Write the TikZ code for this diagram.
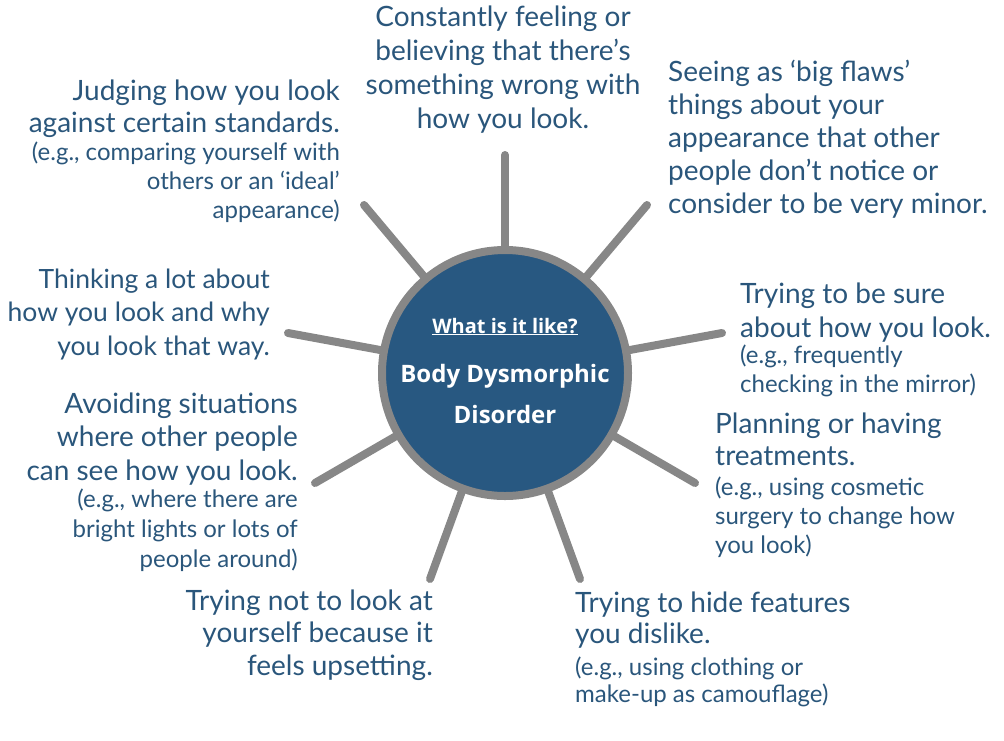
\documentclass[tikz,border=0pt]{standalone}
\usepackage{fontspec}
\setmainfont{Lato}
\newfontfamily\ctrfont{Open Sans}
\definecolor{txtblue}{HTML}{2A567B}
\definecolor{circblue}{HTML}{285881}
\definecolor{spokegray}{HTML}{878787}
\tikzset{
  spoke/.style={draw=spokegray, line width=8pt, line cap=round},
  hub/.style={circle, draw=spokegray, line width=8pt, fill=circblue, minimum size=246pt, inner sep=0pt},
  mainlbl/.style={text=txtblue, inner sep=0pt, font=\fontsize{28}{33}\selectfont},
  sublbl/.style={text=txtblue, inner sep=0pt, font=\fontsize{24}{29}\selectfont},
  ctrtxt/.style={text=white, inner sep=0pt, font=\ctrfont\bfseries},
}
\begin{document}
\begin{tikzpicture}[x=1pt, y=-1pt]
\useasboundingbox (0,0) rectangle (1004,740);
\coordinate (ctr) at (505,373);
\coordinate (stop) at (505,155);
\coordinate (sur) at (647,205);
\coordinate (sul) at (364,205);
\coordinate (sl) at (288,333);
\coordinate (sr) at (722,333);
\coordinate (sll) at (315,483);
\coordinate (slr) at (695,483);
\coordinate (sbl) at (430,579);
\coordinate (sbr) at (580,579);
\foreach \s in {stop,sur,sul,sl,sr,sll,slr,sbl,sbr} \draw[spoke] (ctr) -- (\s);
\node[hub] (hub) at (ctr) {};
\node[ctrtxt, font=\ctrfont\bfseries\fontsize{20}{24}\selectfont, anchor=base] (q) at (505,333) {\underline{What is it like?}};
\node[ctrtxt, font=\ctrfont\bfseries\fontsize{24}{41}\selectfont, anchor=base, align=center] (bdd) at (505,423) {Body Dysmorphic\\Disorder};

\node[mainlbl, font=\fontsize{28}{32}\selectfont, anchor=base east, align=right] (tlm) at (340,132) {Judging how you look\\against certain standards.};
\node[sublbl, anchor=base east, align=right] (tls) at (340,218) {(e.g., comparing yourself with\\others or an ‘ideal’\\appearance)};

\node[mainlbl, font=\fontsize{28}{34}\selectfont, anchor=base, align=center] (topm) at (503,128) {Constantly feeling or\\believing that there’s\\something wrong with\\how you look.};

\node[mainlbl, anchor=base west, align=left] (trm) at (668,213) {Seeing as ‘big flaws’\\things about your\\appearance that other\\people don’t notice or\\consider to be very minor.};

\node[mainlbl, font=\fontsize{26.5}{33.5}\selectfont, anchor=base east, align=right] (lm) at (270,355) {Thinking a lot about\\how you look and why\\you look that way.};

\node[mainlbl, font=\fontsize{28}{34}\selectfont, anchor=base west, align=left] (rm) at (740,337) {Trying to be sure\\about how you look.};
\node[sublbl, anchor=base west, align=left] (rs) at (740,392) {(e.g., frequently\\checking in the mirror)};

\node[mainlbl, font=\fontsize{28}{33.5}\selectfont, anchor=base east, align=right] (llm) at (298,480) {Avoiding situations\\where other people\\can see how you look.};
\node[sublbl, font=\fontsize{24}{30}\selectfont, anchor=base east, align=right] (lls) at (298,567) {(e.g., where there are\\bright lights or lots of\\people around)};

\node[mainlbl, font=\fontsize{28}{32}\selectfont, anchor=base west, align=left] (lrm) at (715,465) {Planning or having\\treatments.};
\node[sublbl, anchor=base west, align=left] (lrs) at (715,553) {(e.g., using cosmetic\\surgery to change how\\you look)};

\node[mainlbl, font=\fontsize{28}{32.5}\selectfont, anchor=base east, align=right] (blm) at (433,675) {Trying not to look at\\yourself because it\\feels upsetting.};

\node[mainlbl, font=\fontsize{28}{31}\selectfont, anchor=base west, align=left] (brm) at (575,643) {Trying to hide features\\you dislike.};
\node[sublbl, font=\fontsize{24}{27}\selectfont, anchor=base west, align=left] (brs) at (575,702) {(e.g., using clothing or\\make-up as camouflage)};
\end{tikzpicture}
\end{document}
